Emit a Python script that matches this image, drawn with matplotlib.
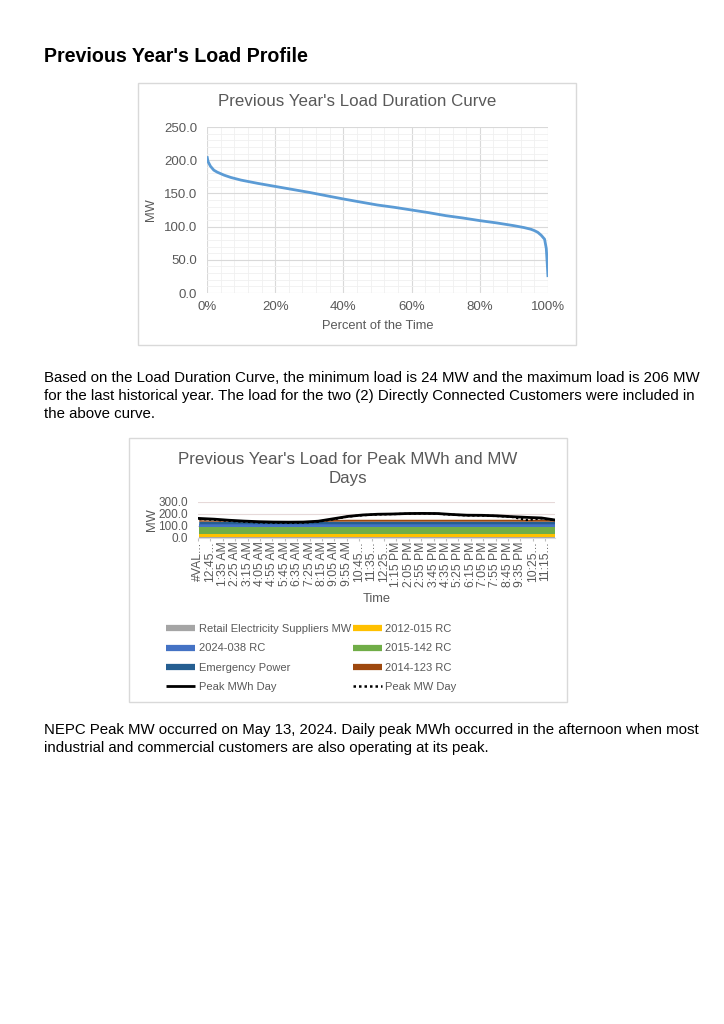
import numpy as np
import matplotlib.pyplot as plt
from matplotlib.lines import Line2D
from matplotlib.patches import Rectangle

plt.rcParams['font.family'] = ['Liberation Sans', 'DejaVu Sans']

W, H = 724, 1024

# load duration curve
ldc_pct = [0, 0.3, 1, 2, 3, 5, 7, 10, 15, 20, 25, 30, 35, 40, 45, 50, 55, 60,
           65, 70, 75, 80, 85, 90, 93, 95, 96, 97, 98, 99, 99.5, 99.8, 100]
ldc_mw = [206, 198, 191, 185, 182, 177.5, 174, 170, 165, 160.5, 156, 151.5, 146.5,
          141.6, 137, 132.5, 129, 125, 121, 116.5, 113, 109, 105.5, 101.4, 98.5,
          96, 94, 91.4, 87, 81, 67, 42, 24]

# peak day profiles, hourly values (index 1 = 12:00 AM, 12 steps per hour)
hours = list(range(25))
peak_mwh = [163, 157, 148, 141, 136, 133, 132, 133, 140, 160, 180, 192, 198,
            200, 204, 205, 204, 196, 190, 189, 185, 178, 172, 167, 150]
peak_mw = [158, 152, 143, 136, 130, 127, 126, 128, 136, 156, 178, 190, 196,
           199, 202, 204, 202, 194, 188, 187, 183, 176, 150, 163, 148]

# stacked components (MW)
retail = [10] * 25
rc_2012_015 = [22] * 25
rc_2015_142 = [60] * 25
rc_2024_038 = [22] * 25
emergency = [22, 22, 20, 18, 16, 14, 14, 15, 20, 22, 22, 22, 22, 22, 22, 22,
             22, 22, 22, 22, 22, 22, 22, 22, 22]
rc_2014_123 = [12, 8, 4, 0, 0, 0, 0, 0, 4, 14, 16, 16, 16, 16, 16, 16,
               16, 16, 16, 16, 16, 16, 16, 16, 10]

tick_labels = ['#VAL...', '12:45...', '1:35 AM', '2:25 AM', '3:15 AM', '4:05 AM',
               '4:55 AM', '5:45 AM', '6:35 AM', '7:25 AM', '8:15 AM', '9:05 AM',
               '9:55 AM', '10:45...', '11:35...', '12:25...', '1:15 PM', '2:05 PM',
               '2:55 PM', '3:45 PM', '4:35 PM', '5:25 PM', '6:15 PM', '7:05 PM',
               '7:55 PM', '8:45 PM', '9:35 PM', '10:25...', '11:15...']

grey_txt = '#595959'


def px_axes(fig, x0, y0, x1, y1):
    return fig.add_axes([x0 / W, 1 - y1 / H, (x1 - x0) / W, (y1 - y0) / H])


def box(fig, x0, y0, x1, y1):
    fig.add_artist(Rectangle((x0 / W, 1 - y1 / H), (x1 - x0) / W, (y1 - y0) / H,
                             transform=fig.transFigure, fill=False,
                             ec='#d9d9d9', lw=1))


def ftext(fig, x, y, s, **kw):
    fig.text(x / W, 1 - y / H, s, **kw)


fig = plt.figure(figsize=(W / 100, H / 100), dpi=100)

ftext(fig, 44, 56, "Previous Year's Load Profile", fontsize=14.1,
      fontweight='bold', va='center')

# ---- chart 1: load duration curve
box(fig, 138, 83, 576, 345)
ax1 = px_axes(fig, 207, 127, 548, 293)
ax1.plot(ldc_pct, ldc_mw, color='#5B9BD5', lw=2, solid_capstyle='butt')
ax1.set_xlim(0, 100)
ax1.set_ylim(0, 250)
ax1.set_xticks(np.arange(0, 101, 20))
ax1.set_xticklabels([f'{v}%' for v in range(0, 101, 20)])
ax1.set_yticks(np.arange(0, 251, 50))
ax1.set_yticklabels([f'{v:.1f}' for v in range(0, 251, 50)])
ax1.set_xticks(np.arange(0, 101, 4), minor=True)
ax1.set_yticks(np.arange(0, 251, 10), minor=True)
ax1.grid(which='major', color='#d9d9d9', lw=0.8)
ax1.grid(which='minor', color='#f0f0f0', lw=0.6)
ax1.set_axisbelow(True)
for s in ax1.spines.values():
    s.set_visible(False)
ax1.tick_params(which='both', length=0, labelsize=9.5, colors=grey_txt)
ax1.tick_params(axis='y', pad=7)
ax1.tick_params(axis='x', pad=6)
ax1.set_xlabel('Percent of the Time', fontsize=9.3, color=grey_txt, labelpad=5)
ax1.set_ylabel('MW', fontsize=9.3, color=grey_txt, labelpad=5)
ftext(fig, 357, 102, "Previous Year's Load Duration Curve", fontsize=12.2,
      color=grey_txt, ha='center', va='center')

para1 = ["Based on the Load Duration Curve, the minimum load is 24 MW and the maximum load is 206 MW",
         "for the last historical year. The load for the two (2) Directly Connected Customers were included in",
         "the above curve."]
for i, line in enumerate(para1):
    ftext(fig, 44, 378 + 18 * i, line, fontsize=10.85, va='center')

# ---- chart 2: peak days
box(fig, 129, 438, 567, 702)
ax2 = px_axes(fig, 198, 502, 555, 538)
xs = [h * 12 + 1 for h in hours]
xs[-1] = 288
stack_vals = [retail, rc_2012_015, rc_2015_142, rc_2024_038, emergency, rc_2014_123]
stack_cols = ['#A5A5A5', '#FFC000', '#70AD47', '#4472C4', '#255E91', '#9E480E']
ax2.stackplot(xs, *stack_vals, colors=stack_cols, lw=0)
ax2.plot(xs, peak_mwh, color='black', lw=2)
ax2.plot(xs, peak_mw, color='black', lw=1.6, ls=(0, (1, 1.2)))
ax2.set_xlim(0, 288)
ax2.set_ylim(0, 300)
ax2.set_yticks([0, 100, 200, 300])
ax2.set_yticklabels(['0.0', '100.0', '200.0', '300.0'])
ax2.set_xticks(np.arange(0, 281, 10))
ax2.set_xticklabels(tick_labels, rotation=90)
ax2.grid(axis='y', color='#e6d9d9', lw=0.8)
ax2.set_axisbelow(True)
for s in ['top', 'right', 'left']:
    ax2.spines[s].set_visible(False)
ax2.spines['bottom'].set_color('#d9d9d9')
ax2.tick_params(axis='y', length=0, labelsize=8.5, colors=grey_txt, pad=7)
ax2.tick_params(axis='x', length=2, color='#bfbfbf', labelsize=8.8,
                colors=grey_txt, pad=0.5)
ax2.set_xlabel('Time', fontsize=9.3, color=grey_txt, labelpad=4)
ax2.set_ylabel('MW', fontsize=9.3, color=grey_txt)
ax2.yaxis.set_label_coords(-0.112, 0.5)
ftext(fig, 348, 469, "Previous Year's Load for Peak MWh and MW\nDays", fontsize=12.2,
      color=grey_txt, ha='center', va='center', linespacing=1.25)

names = ['Retail Electricity Suppliers MW', '2012-015 RC', '2024-038 RC',
         '2015-142 RC', 'Emergency Power', '2014-123 RC']
col_of = dict(zip(['Retail Electricity Suppliers MW', '2012-015 RC', '2015-142 RC',
                   '2024-038 RC', 'Emergency Power', '2014-123 RC'], stack_cols))
hd = {n: Line2D([], [], color=col_of[n], lw=4.5, solid_capstyle='butt') for n in names}
hd['Peak MWh Day'] = Line2D([], [], color='black', lw=2, solid_capstyle='butt')
hd['Peak MW Day'] = Line2D([], [], color='black', lw=1.8, ls=(0, (1, 1.2)))
order = ['Retail Electricity Suppliers MW', '2024-038 RC', 'Emergency Power', 'Peak MWh Day',
         '2012-015 RC', '2015-142 RC', '2014-123 RC', 'Peak MW Day']
fig.legend([hd[n] for n in order], order, ncol=2, loc='upper left',
           bbox_to_anchor=(156 / W, 1 - 614 / H), frameon=False, fontsize=8.0,
           handlelength=2.6, handletextpad=0.35, columnspacing=0.15,
           labelspacing=0.85, labelcolor=grey_txt)

para2 = ["NEPC Peak MW occurred on May 13, 2024. Daily peak MWh occurred in the afternoon when most",
         "industrial and commercial customers are also operating at its peak."]
for i, line in enumerate(para2):
    ftext(fig, 44, 730 + 18 * i, line, fontsize=10.85, va='center')

fig.savefig('out.png', dpi=100)
